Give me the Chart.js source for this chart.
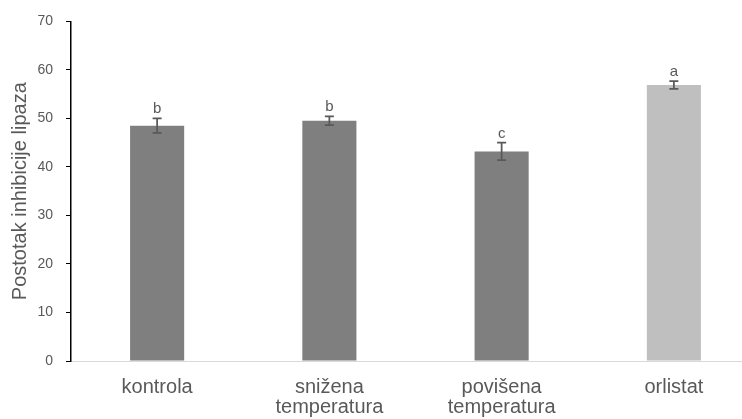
<!DOCTYPE html>
<html>
<head>
<meta charset="utf-8">
<script src="https://cdn.jsdelivr.net/npm/chart.js@4/dist/chart.umd.min.js"></script>
<style>
  html, body { margin: 0; padding: 0; background: #fff; overflow: hidden; }
  #wrap { position: relative; width: 760px; height: 419px; }
</style>
</head>
<body>
<div id="wrap"><canvas id="c"></canvas></div>
<script>
// Lipase inhibition by treatment (mean ± SD) with significance letters
const categories = ['kontrola', ['snižena', 'temperatura'], ['povišena', 'temperatura'], 'orlistat'];
const inhibition = [48.5, 49.5, 43.2, 56.9];
const errors = [1.5, 0.9, 1.8, 0.8];
const letters = ['b', 'b', 'c', 'a'];
const barColors = ['#7f7f7f', '#7f7f7f', '#7f7f7f', '#bfbfbf'];
const yTicks = [0, 10, 20, 30, 40, 50, 60, 70];

const FONT = '"Liberation Sans", Arial, sans-serif';

const errorBarPlugin = {
  id: 'errorBars',
  afterDatasetsDraw(chart) {
    const ctx = chart.ctx;
    const meta = chart.getDatasetMeta(0);
    const y = chart.scales.y;
    ctx.save();
    meta.data.forEach((bar, i) => {
      const v = inhibition[i], e = errors[i];
      const yTop = y.getPixelForValue(v + e);
      const yBot = y.getPixelForValue(v - e);
      const x = bar.x;
      ctx.strokeStyle = '#595959';
      ctx.lineWidth = 1.75;
      ctx.beginPath();
      ctx.moveTo(x, yTop); ctx.lineTo(x, yBot);
      ctx.moveTo(x - 4.5, yTop); ctx.lineTo(x + 4.5, yTop);
      ctx.moveTo(x - 4.5, yBot); ctx.lineTo(x + 4.5, yBot);
      ctx.stroke();
      ctx.fillStyle = '#595959';
      ctx.font = '15px ' + FONT;
      ctx.textAlign = 'center';
      ctx.textBaseline = 'alphabetic';
      ctx.fillText(letters[i], x, yTop - 5);
    });
    ctx.restore();
  }
};

new Chart(document.getElementById('c'), {
  type: 'bar',
  data: {
    labels: categories,
    datasets: [{
      data: inhibition,
      backgroundColor: barColors,
      barPercentage: 0.314,
      categoryPercentage: 1.0
    }]
  },
  options: {
    responsive: true,
    maintainAspectRatio: false,
    animation: false,
    layout: { padding: { top: 20, right: 0, left: 0, bottom: 0 } },
    plugins: { legend: { display: false }, tooltip: { enabled: false } },
    scales: {
      x: {
        grid: { display: false },
        border: { color: '#d9d9d9', width: 1 },
        ticks: {
          color: '#595959',
          font: { family: FONT, size: 20, lineHeight: 1.0 },
          padding: 8,
          maxRotation: 0
        },
        afterFit(scale) { scale.height = 58; }
      },
      y: {
        min: 0, max: 70,
        afterBuildTicks(scale) { scale.ticks = yTicks.map(v => ({ value: v })); },
        grid: { drawOnChartArea: false, color: '#000', tickLength: 5 },
        border: { color: '#000', width: 1.5 },
        ticks: {
          color: '#595959',
          font: { family: FONT, size: 14 },
          padding: 13
        },
        title: {
          display: true,
          text: 'Postotak inhibicije lipaza',
          color: '#595959',
          font: { family: FONT, size: 20 },
          padding: { top: 8, bottom: 0 }
        },
        afterFit(scale) { scale.width = 71; }
      }
    }
  },
  plugins: [errorBarPlugin]
});
</script>
</body>
</html>
